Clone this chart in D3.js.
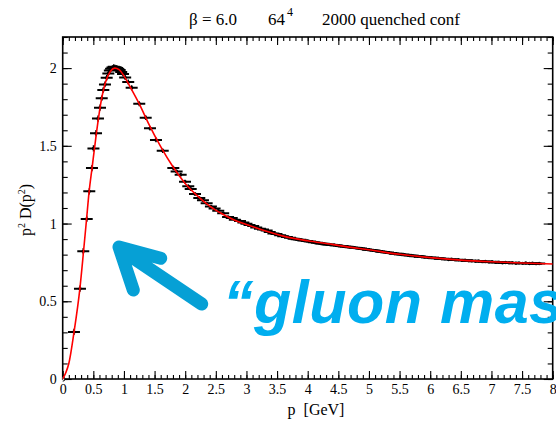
<!DOCTYPE html>
<html>
<head>
<meta charset="utf-8">
<script src="https://cdn.jsdelivr.net/npm/d3@7/dist/d3.min.js"></script>
<style>
  html, body { margin: 0; padding: 0; background: #fff; }
  svg { display: block; }
  .axis path, .axis line { stroke: #000; }
  .axis text { font-family: "Liberation Serif", "Times New Roman", serif; font-size: 14px; fill: #000; }
</style>
</head>
<body>
<svg id="chart" width="556" height="424"></svg>
<script>
// Lattice gluon propagator, p^2 D(p^2) vs momentum p (GeV)
const momentum = [
  0, 0.184, 0.282, 0.336, 0.392, 0.434, 0.478, 0.502, 0.544, 0.576,
  0.609, 0.637, 0.663, 0.690, 0.718, 0.745, 0.770, 0.790, 0.812, 0.833,
  0.853, 0.872, 0.890, 0.908, 0.930, 0.955, 0.985, 1.020, 1.070, 1.126,
  1.250, 1.355, 1.425, 1.523, 1.633, 1.806, 1.860, 1.926, 1.997, 2.050,
  2.090, 2.160, 2.230, 2.290, 2.350, 2.420, 2.480, 2.540, 2.620, 2.700,
  2.760, 2.810, 2.895, 2.950, 3.000, 3.050, 3.110, 3.160, 3.220, 3.270,
  3.330, 3.380, 3.440, 3.490, 3.550, 3.600, 3.660, 3.710, 3.770, 3.820,
  3.880, 3.930, 3.990, 4.040, 4.100, 4.150, 4.210, 4.260, 4.320, 4.370,
  4.430, 4.480, 4.540, 4.590, 4.650, 4.700, 4.760, 4.810, 4.870, 4.920,
  4.980, 5.030, 5.090, 5.140, 5.200, 5.250, 5.310, 5.360, 5.420, 5.470,
  5.530, 5.580, 5.640, 5.690, 5.750, 5.800, 5.860, 5.910, 5.970, 6.020,
  6.080, 6.130, 6.190, 6.240, 6.300, 6.350, 6.410, 6.460, 6.520, 6.570,
  6.630, 6.680, 6.740, 6.790, 6.850, 6.900, 6.960, 7.010, 7.070, 7.120,
  7.180, 7.230, 7.290, 7.340, 7.400, 7.450, 7.510, 7.560, 7.620, 7.670,
  7.730, 7.780
];
const dressing = [
  0.000, 0.303, 0.581, 0.822, 1.030, 1.207, 1.357, 1.483, 1.581, 1.675,
  1.745, 1.806, 1.859, 1.895, 1.938, 1.966, 1.985, 1.996, 2.003, 2.008,
  2.006, 2.004, 2.000, 1.994, 1.987, 1.975, 1.962, 1.940, 1.910, 1.874,
  1.771, 1.681, 1.613, 1.538, 1.468, 1.357, 1.335, 1.314, 1.269, 1.240,
  1.222, 1.190, 1.165, 1.150, 1.130, 1.110, 1.097, 1.083, 1.066, 1.042,
  1.035, 1.025, 1.017, 1.006, 0.998, 0.991, 0.984, 0.975, 0.966, 0.962,
  0.955, 0.946, 0.936, 0.932, 0.925, 0.918, 0.914, 0.908, 0.902, 0.899,
  0.896, 0.891, 0.888, 0.884, 0.879, 0.876, 0.872, 0.870, 0.866, 0.864,
  0.862, 0.859, 0.856, 0.853, 0.851, 0.848, 0.845, 0.842, 0.839, 0.836,
  0.832, 0.830, 0.826, 0.823, 0.819, 0.817, 0.813, 0.810, 0.806, 0.805,
  0.801, 0.799, 0.796, 0.794, 0.790, 0.790, 0.786, 0.785, 0.781, 0.781,
  0.777, 0.777, 0.773, 0.773, 0.769, 0.770, 0.766, 0.767, 0.763, 0.764,
  0.760, 0.761, 0.757, 0.759, 0.755, 0.756, 0.752, 0.754, 0.750, 0.751,
  0.748, 0.749, 0.747, 0.748, 0.745, 0.747, 0.744, 0.746, 0.743, 0.745,
  0.742, 0.743
];
// Statistical errors (half-widths)
const dressingErr = [
  0.000, 0.020, 0.020, 0.020, 0.020, 0.020, 0.020, 0.020, 0.020, 0.020,
  0.020, 0.018, 0.018, 0.018, 0.018, 0.018, 0.016, 0.016, 0.016, 0.016,
  0.016, 0.016, 0.016, 0.016, 0.016, 0.016, 0.016, 0.016, 0.016, 0.016,
  0.016, 0.015, 0.015, 0.015, 0.015, 0.014, 0.012, 0.012, 0.012, 0.011,
  0.011, 0.011, 0.010, 0.010, 0.010, 0.009, 0.009, 0.009, 0.009, 0.008,
  0.008, 0.008, 0.008, 0.007, 0.007, 0.007, 0.007, 0.007, 0.007, 0.007,
  0.006, 0.006, 0.006, 0.006, 0.006, 0.006, 0.006, 0.006, 0.006, 0.006,
  0.005, 0.005, 0.005, 0.005, 0.005, 0.005, 0.005, 0.005, 0.005, 0.005,
  0.005, 0.005, 0.005, 0.005, 0.005, 0.005, 0.005, 0.005, 0.005, 0.005,
  0.005, 0.005, 0.005, 0.005, 0.005, 0.005, 0.005, 0.005, 0.005, 0.005,
  0.005, 0.005, 0.005, 0.005, 0.005, 0.005, 0.005, 0.005, 0.005, 0.005,
  0.005, 0.005, 0.005, 0.005, 0.005, 0.005, 0.005, 0.005, 0.005, 0.005,
  0.005, 0.005, 0.005, 0.005, 0.005, 0.005, 0.005, 0.005, 0.005, 0.005,
  0.005, 0.005, 0.005, 0.005, 0.005, 0.005, 0.005, 0.005, 0.005, 0.005,
  0.005, 0.005
];

// Fit curve samples
const fitP = [
  0, 0.05, 0.10, 0.184, 0.28, 0.34, 0.39, 0.43, 0.48, 0.55,
  0.62, 0.70, 0.78, 0.85, 0.92, 1.00, 1.10, 1.25, 1.40, 1.60,
  1.80, 2.00, 2.20, 2.40, 2.60, 2.80, 3.00, 3.30, 3.60, 4.00,
  4.40, 4.60, 5.00, 5.50, 6.00, 6.50, 7.00, 7.50, 8.00
];
const fitD = [
  0, 0.04, 0.10, 0.30, 0.58, 0.82, 1.03, 1.20, 1.36, 1.58,
  1.77, 1.91, 1.98, 2.00, 1.99, 1.95, 1.88, 1.77, 1.645, 1.495,
  1.365, 1.258, 1.178, 1.112, 1.063, 1.023, 0.994, 0.953, 0.919, 0.889,
  0.866, 0.853, 0.831, 0.802, 0.781, 0.765, 0.754, 0.746, 0.740
];

const xTicks = [0, 0.5, 1, 1.5, 2, 2.5, 3, 3.5, 4, 4.5, 5, 5.5, 6, 6.5, 7, 7.5, 8];
const xTickLabels = ["0", "0.5", "1", "1.5", "2", "2.5", "3", "3.5", "4", "4.5", "5", "5.5", "6", "6.5", "7", "7.5", "8"];
const yTicks = [0, 0.5, 1, 1.5, 2];
const yTickLabels = ["0", "0.5", "1", "1.5", "2"];

const svg = d3.select("#chart");
const L = 62.7, R = 552.7, T = 37, B = 379;

const x = d3.scaleLinear().domain([0, 8]).range([L, R]);
const y = d3.scaleLinear().domain([0, 2.2]).range([B, T]);

const xMinor = d3.range(0, 80.5, 1).map(d => d / 10);
const yMinor = d3.range(0, 22.5, 1).map(d => d / 10);

// Frame
svg.append("rect")
  .attr("x", L).attr("y", T).attr("width", R - L).attr("height", B - T)
  .attr("fill", "none").attr("stroke", "#000").attr("stroke-width", 1.6);

function addAxis(axis, transform) {
  const g = svg.append("g").attr("class", "axis").attr("transform", transform).call(axis);
  g.select(".domain").remove();
  g.selectAll(".tick line").attr("stroke-width", 1.1);
  return g;
}

// Bottom axis (inward ticks)
addAxis(d3.axisBottom(x).tickValues(xMinor).tickSize(-4).tickFormat(""), `translate(0,${B})`);
addAxis(d3.axisBottom(x).tickValues(xTicks).tickSize(-8).tickPadding(5)
  .tickFormat((d, i) => xTickLabels[i]), `translate(0,${B})`);
// Top axis
addAxis(d3.axisTop(x).tickValues(xMinor).tickSize(-4).tickFormat(""), `translate(0,${T})`);
addAxis(d3.axisTop(x).tickValues(xTicks).tickSize(-8).tickFormat(""), `translate(0,${T})`);
// Left axis
addAxis(d3.axisLeft(y).tickValues(yMinor).tickSize(-5).tickFormat(""), `translate(${L},0)`);
addAxis(d3.axisLeft(y).tickValues(yTicks).tickSize(-9).tickPadding(6)
  .tickFormat((d, i) => yTickLabels[i]), `translate(${L},0)`);
// Right axis
addAxis(d3.axisRight(y).tickValues(yMinor).tickSize(-5).tickFormat(""), `translate(${R},0)`);
addAxis(d3.axisRight(y).tickValues(yTicks).tickSize(-9).tickFormat(""), `translate(${R},0)`);

// Clip for plot contents
svg.append("clipPath").attr("id", "plotClip")
  .append("rect").attr("x", L).attr("y", T).attr("width", R - L).attr("height", B - T + 6);

const plot = svg.append("g").attr("clip-path", "url(#plotClip)");

// Data points: vertical error bar crossed by a wide horizontal stroke
const points = momentum.map((p, i) => ({ p, v: dressing[i], e: dressingErr[i] }));
const pg = plot.append("g").attr("stroke", "#000");
points.forEach((d, i) => {
  const cx = x(d.p), cy = y(d.v);
  if (i === 0) {
    pg.append("circle").attr("cx", cx).attr("cy", cy).attr("r", 2.2)
      .attr("fill", "#fff").attr("stroke-width", 1);
    return;
  }
  pg.append("line").attr("x1", cx).attr("x2", cx)
    .attr("y1", y(d.v + d.e)).attr("y2", y(d.v - d.e))
    .attr("stroke-width", 1.4);
  pg.append("line").attr("x1", cx - 6).attr("x2", cx + 6).attr("y1", cy).attr("y2", cy)
    .attr("stroke-width", 2);
  pg.append("circle").attr("cx", cx).attr("cy", cy).attr("r", 1.7).attr("fill", "#000").attr("stroke", "none");
});

// Fit curve
const line = d3.line().x((d, i) => x(fitP[i])).y(d => y(d)).curve(d3.curveMonotoneX);
plot.append("path").datum(fitD).attr("d", line)
  .attr("fill", "none").attr("stroke", "#ff0000").attr("stroke-width", 1.6);

// Title
const title = svg.append("g").attr("font-family", "Liberation Serif, Times New Roman, serif")
  .attr("font-size", 17).attr("fill", "#000");
title.append("text").attr("x", 189).attr("y", 25).text("β = 6.0");
const lt = title.append("text").attr("x", 268).attr("y", 25);
lt.append("tspan").text("64");
lt.append("tspan").attr("dx", 2).attr("dy", -9).attr("font-size", 12).text("4");
title.append("text").attr("x", 322).attr("y", 25).text("2000 quenched conf");

// Axis titles
svg.append("text").attr("x", 316).attr("y", 415).attr("text-anchor", "middle")
  .attr("font-family", "Liberation Serif, Times New Roman, serif").attr("font-size", 16)
  .attr("xml:space", "preserve").text("p  [GeV]");

const yl = svg.append("text").attr("transform", "translate(31,210) rotate(-90)")
  .attr("text-anchor", "middle")
  .attr("font-family", "Liberation Serif, Times New Roman, serif").attr("font-size", 16);
yl.append("tspan").text("p");
yl.append("tspan").attr("dy", -6).attr("font-size", 10).text("2");
yl.append("tspan").attr("dy", 6).text(" D(p");
yl.append("tspan").attr("dy", -6).attr("font-size", 10).text("2");
yl.append("tspan").attr("dy", 6).text(")");

// Hand-drawn annotation arrow
svg.append("path")
  .attr("d", "M201.7,304 L120,249 M133.3,290 L119,247 L160.7,258.3")
  .attr("fill", "none").attr("stroke", "#06a0d5").attr("stroke-width", 13)
  .attr("stroke-linecap", "round").attr("stroke-linejoin", "round");

svg.append("text").attr("x", 223).attr("y", 323)
  .attr("font-family", "Liberation Sans, Arial, sans-serif")
  .attr("font-weight", "bold").attr("font-style", "italic").attr("font-size", 61)
  .attr("letter-spacing", 0.5)
  .attr("fill", "#00aeef").text("“gluon mass”");
</script>
</body>
</html>
